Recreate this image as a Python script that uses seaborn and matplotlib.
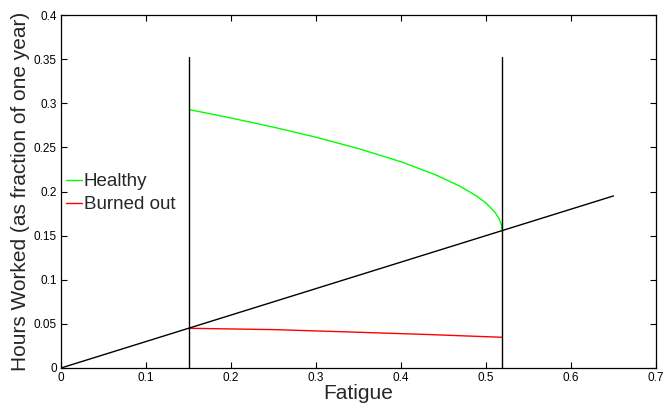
import matplotlib
matplotlib.use("Agg")
import matplotlib.pyplot as plt
import seaborn as sns
import pandas as pd

# Data
line_x = [0.0, 0.65]
line_y = [0.0, 0.195]

vline_x = [0.151, 0.519]
vline_top = 0.352

healthy_x = [0.151, 0.20, 0.25, 0.30, 0.35, 0.40, 0.44, 0.47, 0.49, 0.50, 0.51, 0.515, 0.518, 0.519]
healthy_y = [0.2928, 0.2833, 0.2729, 0.2615, 0.2486, 0.2337, 0.2192, 0.2057, 0.1942, 0.1869, 0.1771, 0.1700, 0.1628, 0.1557]

burned_x = [0.151, 0.25, 0.34, 0.43, 0.519]
burned_y = [0.045, 0.0435, 0.0408, 0.0380, 0.0348]

xticks = [0, 0.1, 0.2, 0.3, 0.4, 0.5, 0.6, 0.7]
xticklabels = ["0", "0.1", "0.2", "0.3", "0.4", "0.5", "0.6", "0.7"]
yticks = [0, 0.05, 0.1, 0.15, 0.2, 0.25, 0.3, 0.35, 0.4]
yticklabels = ["0", "0.05", "0.1", "0.15", "0.2", "0.25", "0.3", "0.35", "0.4"]

sns.set_style("ticks")
plt.rcParams['font.family'] = ['Liberation Sans', 'DejaVu Sans']

fig = plt.figure(figsize=(6.67, 4.05), dpi=100)
ax = fig.add_axes([61/667, 1-368/405, 595/667, 353/405])

df_h = pd.DataFrame({"x": healthy_x, "y": healthy_y})
df_b = pd.DataFrame({"x": burned_x, "y": burned_y})
df_l = pd.DataFrame({"x": line_x, "y": line_y})

sns.lineplot(data=df_h, x="x", y="y", ax=ax, color="#00ff00", lw=1.0, label="Healthy", sort=False, estimator=None)
sns.lineplot(data=df_b, x="x", y="y", ax=ax, color="#ff0000", lw=1.0, label="Burned out", sort=False, estimator=None)
sns.lineplot(data=df_l, x="x", y="y", ax=ax, color="black", lw=1.0, sort=False, estimator=None, legend=False)
for vx in vline_x:
    ax.plot([vx, vx], [0, vline_top], color="black", lw=1.0)

ax.set_xlim(0, 0.7)
ax.set_ylim(0, 0.4)
ax.set_xticks(xticks)
ax.set_xticklabels(xticklabels)
ax.set_yticks(yticks)
ax.set_yticklabels(yticklabels)
ax.tick_params(direction="in", length=4, width=0.8, labelsize=8.5, pad=3,
               top=True, right=True, colors="black")
for s in ax.spines.values():
    s.set_visible(True)
    s.set_color("black")
    s.set_linewidth(0.9)

ax.set_xlabel("Fatigue", fontsize=15, labelpad=0)
ax.set_ylabel("Hours Worked (as fraction of one year)", fontsize=15, labelpad=3)

ax.legend(loc="center left", bbox_to_anchor=(0.0, 0.495), frameon=False,
          fontsize=13.5, handlelength=0.85, handletextpad=0.12, borderpad=0,
          borderaxespad=0.25, labelspacing=0.3)

fig.savefig("out.png", dpi=100)
